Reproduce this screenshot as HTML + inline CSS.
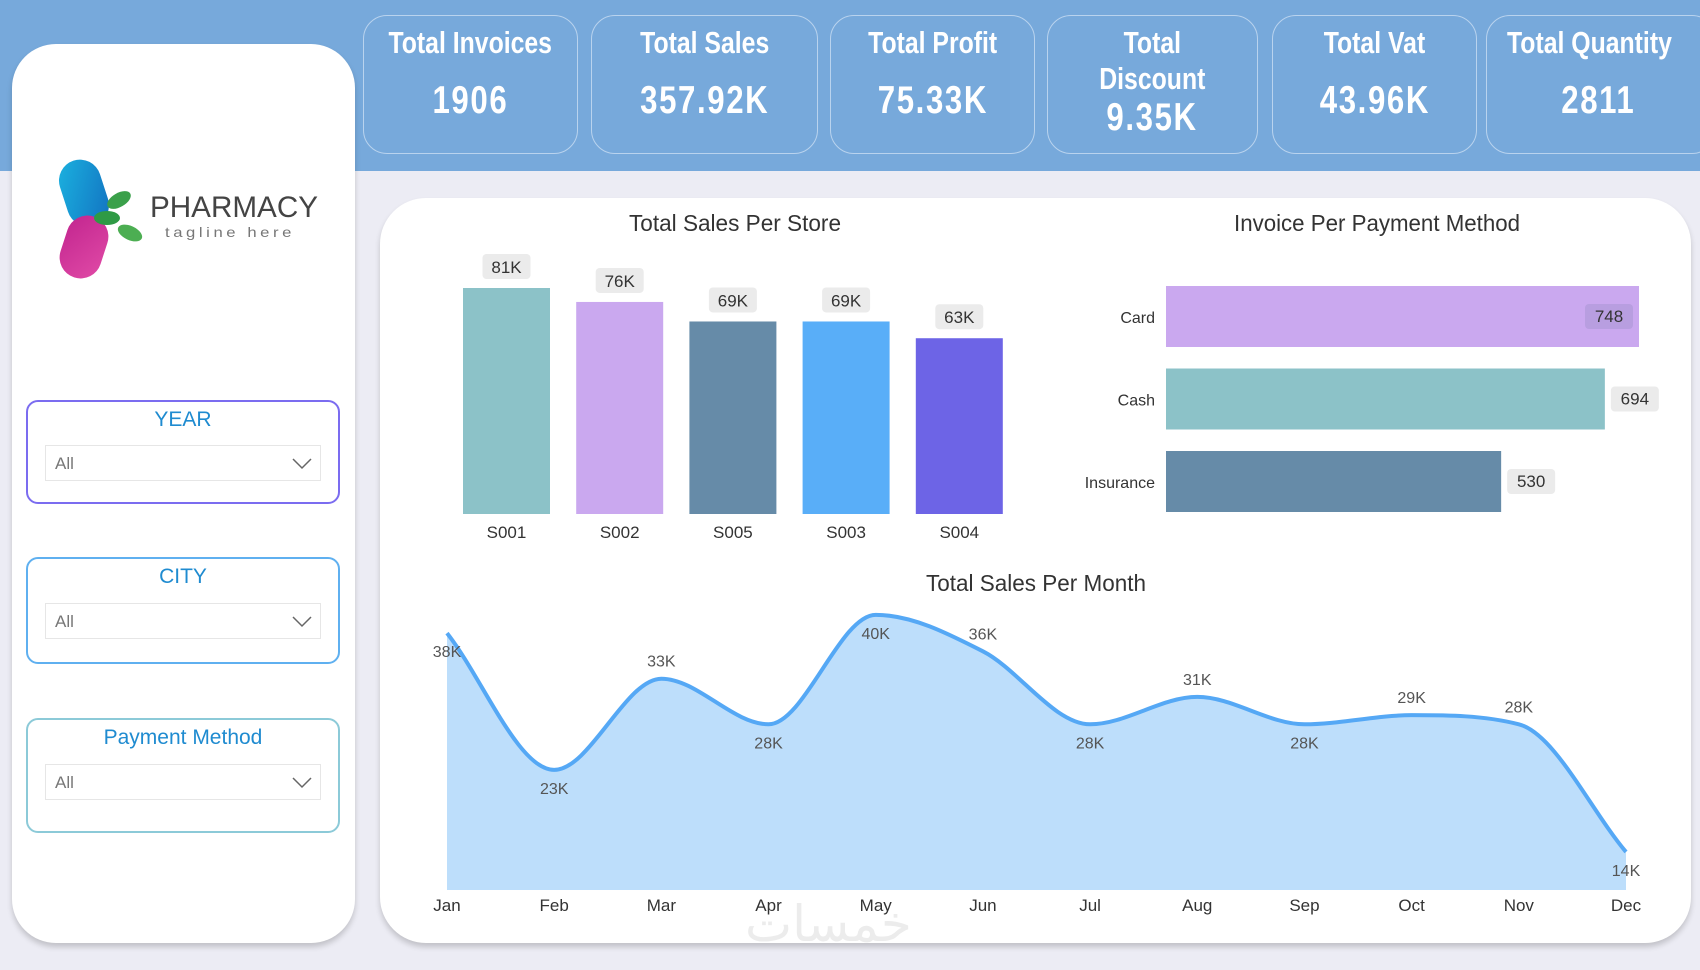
<!DOCTYPE html>
<html><head><meta charset="utf-8">
<style>
*{margin:0;padding:0;box-sizing:border-box}
body{width:1700px;height:970px;overflow:hidden;background:#ececf4;font-family:"Liberation Sans Narrow","Liberation Sans",sans-serif;position:relative}
.band{position:absolute;left:0;top:0;width:1700px;height:171px;background:#77a9db}
.card{position:absolute;top:15px;height:139px;border:1.5px solid #b9d3ee;border-radius:24px;color:#fff;text-align:center;white-space:nowrap}
.card .lbl{font-size:31px;margin-top:9px;line-height:36px;font-weight:bold}
.card .val{font-size:39px;margin-top:18px;letter-spacing:2px;font-weight:bold}
.sq{display:inline-block;transform:scaleX(0.8);transform-origin:center}
.left{position:absolute;left:12px;top:44px;width:343px;height:899px;background:#fff;border-radius:44px;box-shadow:0 4px 6px rgba(0,0,0,.18)}
.main{position:absolute;left:380px;top:198px;width:1311px;height:745px;background:#fff;border-radius:46px;box-shadow:0 4px 6px rgba(0,0,0,.18)}
.slicer{position:absolute;left:26px;width:314px;border-radius:12px;background:#fff;text-align:center}
.slicer .t{font-family:"Liberation Sans",sans-serif;font-size:21px;color:#1f8bd0;margin-top:6px}
.dd{position:absolute;left:17px;width:276px;height:36px;border:1px solid #e6e6e6;text-align:left;padding-left:9px;font-family:"Liberation Sans",sans-serif;font-size:17px;color:#777;line-height:36px}
.dd svg{position:absolute;right:8px;top:12px}
</style></head><body>
<div class="band"></div>
<div class="card" style="left:363px;width:215px"><div class="lbl"><span class="sq">Total Invoices</span></div><div class="val"><span class="sq">1906</span></div></div>
<div class="card" style="left:591px;width:227px"><div class="lbl"><span class="sq">Total Sales</span></div><div class="val"><span class="sq">357.92K</span></div></div>
<div class="card" style="left:830px;width:205px"><div class="lbl"><span class="sq">Total Profit</span></div><div class="val"><span class="sq">75.33K</span></div></div>
<div class="card" style="left:1047px;width:211px"><div class="lbl"><span class="sq">Total<br>Discount</span></div><div class="val" style="margin-top:-1px"><span class="sq">9.35K</span></div></div>
<div class="card" style="left:1272px;width:205px"><div class="lbl"><span class="sq">Total Vat</span></div><div class="val"><span class="sq">43.96K</span></div></div>
<div class="card" style="left:1486px;width:230px"><div class="lbl" style="text-align:left;padding-left:20px"><span class="sq" style="transform-origin:left">Total Quantity</span></div><div class="val" style="padding-right:6px"><span class="sq">2811</span></div></div>

<div class="left"></div>
<svg style="position:absolute;left:55px;top:155px" width="280" height="130">
<defs><linearGradient id="gb" x1="0" y1="0" x2="1" y2="1"><stop offset="0" stop-color="#1bb3e0"/><stop offset="1" stop-color="#1270c0"/></linearGradient>
<linearGradient id="gp" x1="0" y1="0" x2="1" y2="1"><stop offset="0" stop-color="#c2258f"/><stop offset="1" stop-color="#e04aa6"/></linearGradient></defs>
<rect x="8" y="4" width="42" height="68" rx="21" fill="url(#gb)" transform="rotate(-18 29 38)"/>
<rect x="8" y="60" width="42" height="64" rx="21" fill="url(#gp)" transform="rotate(18 29 92)"/>
<ellipse cx="64" cy="45" rx="13" ry="7" fill="#3aa04a" transform="rotate(-30 64 45)"/>
<ellipse cx="52" cy="63" rx="13" ry="7" fill="#2f9a45"/>
<ellipse cx="75" cy="78" rx="13" ry="7" fill="#4cae52" transform="rotate(25 75 78)"/>
<text x="95" y="62" font-family="Liberation Sans,sans-serif" font-size="30" fill="#444" textLength="168" lengthAdjust="spacingAndGlyphs">PHARMACY</text>
<text x="110" y="82" font-family="Liberation Sans,sans-serif" font-size="14" letter-spacing="3" fill="#777" textLength="130" lengthAdjust="spacingAndGlyphs">tagline here</text>
</svg>

<div class="slicer" style="top:400px;height:104px;border:2px solid #7b6cf0"><div class="t">YEAR</div>
<div class="dd" style="top:43px">All<svg width="20" height="12"><path d="M1 1 L10 10 L19 1" fill="none" stroke="#666" stroke-width="1.5"/></svg></div></div>
<div class="slicer" style="top:557px;height:107px;border:2px solid #5fb0f0"><div class="t">CITY</div>
<div class="dd" style="top:44px">All<svg width="20" height="12"><path d="M1 1 L10 10 L19 1" fill="none" stroke="#666" stroke-width="1.5"/></svg></div></div>
<div class="slicer" style="top:718px;height:115px;border:2px solid #8ccad8"><div class="t">Payment Method</div>
<div class="dd" style="top:44px">All<svg width="20" height="12"><path d="M1 1 L10 10 L19 1" fill="none" stroke="#666" stroke-width="1.5"/></svg></div></div>

<div class="main"></div>
<svg id="ch" style="position:absolute;left:0;top:0" width="1700" height="970" font-family="Liberation Sans Narrow,Liberation Sans,sans-serif"></svg>
<div style="position:absolute;left:745px;top:895px;font-family:'DejaVu Sans',sans-serif;font-size:50px;color:#ececec">خمسات</div>

<script>
const storeCats=["S001","S002","S005","S003","S004"];
const storeSales=[81,76,69,69,63];
const payCats=["Card","Cash","Insurance"];
const payVals=[748,694,530];
const months=["Jan","Feb","Mar","Apr","May","Jun","Jul","Aug","Sep","Oct","Nov","Dec"];
const monthSales=[38,23,33,28,40,36,28,31,28,29,28,14];
const monthLabelAbove=[false,false,true,false,false,true,false,true,false,true,true,false];
const storeColors=["#8cc2c8","#caa8ef","#668ba8","#59aef8","#6d64e6"];
const payColors=["#caa8ef","#8cc2c8","#668ba8"];

const svg=document.getElementById('ch');
const NS="http://www.w3.org/2000/svg";
function mk(tag,attrs,txt){const e=document.createElementNS(NS,tag);for(const k in attrs)e.setAttribute(k,attrs[k]);if(txt!==undefined)e.textContent=txt;svg.appendChild(e);return e;}

let t;
t=mk('text',{x:735,y:231,'text-anchor':'middle','font-size':23,fill:'#333',textLength:212,lengthAdjust:'spacingAndGlyphs'},'Total Sales Per Store');


t=mk('text',{x:1377,y:231,'text-anchor':'middle','font-size':23,fill:'#333',textLength:286,lengthAdjust:'spacingAndGlyphs'},'Invoice Per Payment Method');


t=mk('text',{x:1036,y:591,'text-anchor':'middle','font-size':23,fill:'#333',textLength:220,lengthAdjust:'spacingAndGlyphs'},'Total Sales Per Month');



const vBase=514,vH=226,vMax=81,bw=87;
const vx=i=>463+i*113.2;
const vy=v=>vBase-v/vMax*vH;
storeCats.forEach((c,i)=>{
 const r=mk('rect',{x:vx(i),y:vy(storeSales[i]),width:bw,height:vBase-vy(storeSales[i]),fill:storeColors[i]});
 
 
 const cx=vx(i)+bw/2;
 const b=mk('rect',{x:cx-24,y:vy(storeSales[i])-34,width:48,height:25,rx:4,fill:'#ebebeb'});
 
 
 const l=mk('text',{x:cx,y:vy(storeSales[i])-15,'text-anchor':'middle','font-size':17,fill:'#333'},storeSales[i]+'K');
 
 
 const a=mk('text',{x:cx,y:538,'text-anchor':'middle','font-size':17,fill:'#333'},c);
 
 
});

const hx0=1166,hW=473,hMax=748,bh=61;
const hw=v=>v/hMax*hW;
const hy=i=>286+i*82.5;
payCats.forEach((c,i)=>{
 const w=hw(payVals[i]);
 const r=mk('rect',{x:hx0,y:hy(i),width:w,height:bh,fill:payColors[i]});
 
 
 const inside=(i===0);
 const bx=inside?hx0+w-54:hx0+w+6;
 const b=mk('rect',{x:bx,y:hy(i)+18,width:48,height:25,rx:4,fill:inside?'#b89ee0':'#ebebeb'});
 
 
 const l=mk('text',{x:bx+24,y:hy(i)+36,'text-anchor':'middle','font-size':17,fill:'#333'},payVals[i]);
 
 
 const a=mk('text',{x:1155,y:hy(i)+37,'text-anchor':'end','font-size':16,fill:'#333','font-family':'Liberation Sans,sans-serif'},c);
 
 
});

const aBase=890,aMin=9.83,aK=9.12;
const ax=i=>447+i*(1626-447)/11;
const ay=v=>aBase-(v-aMin)*aK;
const P=monthSales.map((v,i)=>[ax(i),ay(v)]);
const n=P.length,d=[],m=[];
for(let i=0;i<n-1;i++)d.push((P[i+1][1]-P[i][1])/(P[i+1][0]-P[i][0]));
m[0]=d[0];m[n-1]=d[n-2];
for(let i=1;i<n-1;i++){m[i]=(d[i-1]*d[i]<=0)?0:(d[i-1]+d[i])/2;}
for(let i=0;i<n-1;i++){if(d[i]===0){m[i]=0;m[i+1]=0;continue;}const a=m[i]/d[i],b=m[i+1]/d[i],s=a*a+b*b;if(s>9){const tt=3/Math.sqrt(s);m[i]=tt*a*d[i];m[i+1]=tt*b*d[i];}}
let path='M'+P[0][0]+','+P[0][1];
for(let i=0;i<n-1;i++){const h=(P[i+1][0]-P[i][0])/3;path+=` C${P[i][0]+h},${P[i][1]+m[i]*h} ${P[i+1][0]-h},${P[i+1][1]-m[i+1]*h} ${P[i+1][0]},${P[i+1][1]}`;}
const area=mk('path',{d:path+` L${P[n-1][0]},${aBase} L${P[0][0]},${aBase} Z`,fill:'#bddefb'});


const line=mk('path',{d:path,fill:'none',stroke:'#55a8f5','stroke-width':4});


months.forEach((mo,i)=>{
 const l=mk('text',{x:ax(i),y:monthLabelAbove[i]?ay(monthSales[i])-12:ay(monthSales[i])+24,'text-anchor':'middle','font-size':16,fill:'#555'},monthSales[i]+'K');
 
 
 const a=mk('text',{x:ax(i),y:911,'text-anchor':'middle','font-size':17,fill:'#333'},mo);
 
 
});
</script>
</body></html>
